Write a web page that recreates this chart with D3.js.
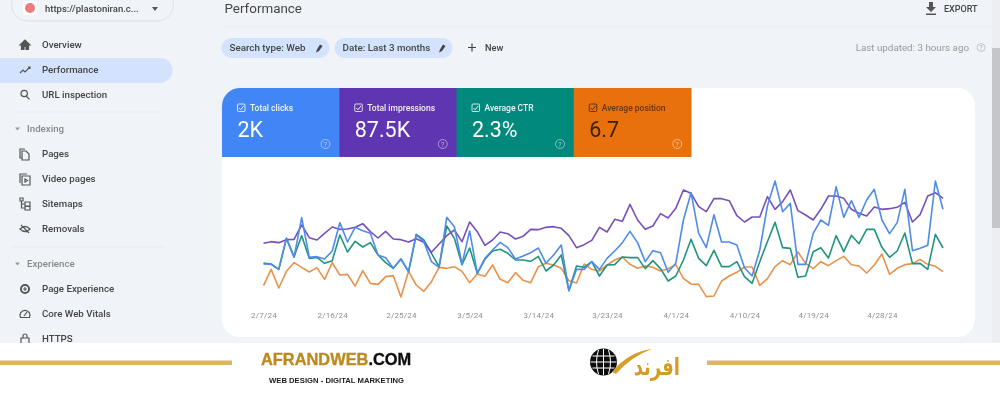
<!DOCTYPE html>
<html><head><meta charset="utf-8">
<script src="https://cdn.jsdelivr.net/npm/d3@7/dist/d3.min.js"></script>
<style>html,body{margin:0;padding:0;background:#fff;overflow:hidden}svg{display:block}text{font-family:Roboto,sans-serif}</style>
</head><body><svg id="c" width="1000" height="400"></svg>
<script>
const startDate = "2024-02-07";
const tickDates = ["2024-02-07","2024-02-16","2024-02-25","2024-03-05","2024-03-14","2024-03-23","2024-04-01","2024-04-10","2024-04-19","2024-04-28"];
const impressions = [260,265,262,271,272,315,277,270,290,309,302,303,308,319,295,276,296,273,271,264,274,263,233,258,283,300,265,324,295,254,270,294,289,273,281,302,301,308,310,305,283,247,256,269,308,294,332,326,377,330,302,312,349,336,365,420,410,370,355,394,394,388,343,324,339,339,400,362,385,420,358,345,330,362,402,402,395,362,350,342,369,362,364,368,383,324,346,402,412,395];
const clicks = [198,197,182,275,218,337,218,220,213,237,322,264,308,298,290,225,217,185,213,175,285,265,205,188,338,310,198,297,170,215,240,263,247,213,222,232,246,200,225,255,118,182,182,205,182,215,237,262,296,262,205,238,232,173,200,330,412,290,247,346,264,264,255,187,162,240,372,447,355,380,197,197,290,330,314,430,338,388,338,390,422,330,289,322,422,238,245,254,447,362];
const ctr = [201,198,182,275,220,283,215,218,200,208,285,234,266,249,262,225,202,185,213,175,287,270,230,190,312,275,196,246,170,212,237,242,230,210,210,206,221,177,195,225,118,192,188,205,162,195,196,219,217,217,184,208,184,147,162,210,272,215,193,239,190,190,205,160,140,205,265,323,247,245,158,162,235,247,216,283,235,284,259,302,302,248,218,237,291,199,200,182,287,246];
const position = [133,182,126,176,202,188,174,187,152,202,165,167,132,178,140,137,160,163,99,176,135,116,145,188,185,190,176,142,168,161,195,152,142,172,149,142,190,200,195,185,148,141,198,182,177,195,210,219,197,185,192,188,177,184,196,155,138,137,100,102,147,162,173,189,189,134,154,190,208,196,234,200,184,205,193,208,221,196,192,171,195,228,167,185,196,199,212,197,191,175];
const tabLabels = ["Total clicks","Total impressions","Average CTR","Average position"];
const tabValues = ["2K","87.5K","2.3%","6.7"];
const tabColors = ["#4285f4","#5e35b1","#00897b","#e8710a"];
const lineColors = {clicks:"#4f8be8",impressions:"#7650bb",ctr:"#22937f",position:"#e8924a"};

const svg = d3.select("#c");
const defs = svg.append("defs");
defs.append("filter").attr("id","soft").attr("filterUnits","userSpaceOnUse").attr("x",0).attr("y",0).attr("width",1000).attr("height",400).append("feGaussianBlur").attr("stdDeviation",0.4);
defs.append("clipPath").attr("id","card").append("rect").attr("x",222).attr("y",88).attr("width",753).attr("height",249).attr("rx",18);
const root = svg.append("g").attr("filter","url(#soft)");
const T = (x,y,s,size,fill,w,anchor)=>root.append("text").attr("x",x).attr("y",y).text(s).attr("font-size",size).attr("fill",fill).attr("font-weight",w||400).attr("text-anchor",anchor||"start");

// page
root.append("rect").attr("width",1000).attr("height",343).attr("fill","#f0f4f9");
root.append("rect").attr("x",992).attr("y",0).attr("width",8).attr("height",343).attr("fill","#eceef1");
root.append("rect").attr("x",992).attr("y",48).attr("width",8).attr("height",180).attr("fill","#c4c6c9");

// sidebar
root.append("rect").attr("x",11.5).attr("y",-12).attr("width",162).attr("height",33).attr("rx",16).attr("fill","none").attr("stroke","#dde1e6");
root.append("rect").attr("x",23).attr("y",1).attr("width",14).attr("height",14).attr("rx",2).attr("fill","#fff");
root.append("circle").attr("cx",30).attr("cy",8).attr("r",5).attr("fill","#ee7b7b");
T(45,12,"https://plastoniran.c...",9.5,"#444",500);
root.append("path").attr("d",d3.line()([[152,7],[158,7],[155,11]])+"Z").attr("fill","#555");
root.append("path").attr("d","M0 58H160a12.5 12.5 0 0 1 0 25H0Z").attr("fill","#d3e3fd");
const navItems = [["Overview",45,"home"],["Performance",70,"trend"],["URL inspection",95,"search"],["Pages",154,"doc"],["Video pages",179,"video"],["Sitemaps",204,"map"],["Removals",229,"eye"],["Page Experience",289,"plus"],["Core Web Vitals",314,"gauge"],["HTTPS",339,"lock"]];
navItems.forEach(([s,y,k])=>{
  T(42,y+2.8,s,9.7,"#444",500);
  const g = root.append("g").attr("transform",`translate(25,${y})`).attr("fill","none").attr("stroke","#555").attr("stroke-width",1.2);
  if(k==="home") g.append("path").attr("d","M-5 0L0-5L5 0H3.5V4.5H1V1.5H-1V4.5H-3.5V0Z").attr("fill","#555");
  if(k==="trend") g.append("path").attr("d","M-5 3L-2 0L0 2L5-3M3-3H5V-1");
  if(k==="search") g.append("path").attr("d","M-4-1.5a3.2 3.2 0 1 0 6.4 0a3.2 3.2 0 1 0-6.4 0M1.2 1L4.5 4.3");
  if(k==="doc") g.append("path").attr("d","M-3 4H-5V-5H0M-3-3H1L4 0V6H-3Z");
  if(k==="video") g.append("path").attr("d","M-5 4V-5H2M-3-3H5V6H-3Z M0 0L2.5 1.5L0 3Z");
  if(k==="map") g.append("path").attr("d","M-5-6H-2V-3H-5ZM-3.5-3V4H0M-3.5 0H0M0-2H5V2H0ZM0 2.5H5V6H0Z");
  if(k==="eye") g.append("path").attr("d","M-5 0Q0-5 5 0Q0 5-5 0ZM-4-4L4 4");
  if(k==="plus"){g.append("circle").attr("r",4).attr("fill","#fff").attr("stroke","#555").attr("stroke-width",2);g.append("path").attr("d","M-2 0H2M0-2V2").attr("stroke-width",1.2);}
  if(k==="gauge") g.append("path").attr("d","M-4.5 3.5a5 5 0 1 1 9 0ZM-1 2L2-2");
  if(k==="lock") g.append("path").attr("d","M-4-1H4V5H-4ZM-2-1V-3a2 2 0 0 1 4 0V-1");
});
[[12,112],[12,247]].forEach(([x,y])=>root.append("line").attr("x1",x).attr("x2",164).attr("y1",y).attr("y2",y).attr("stroke","#e8ebf0"));
[["Indexing",129],["Experience",264]].forEach(([s,y])=>{
  T(27,y+2.8,s,9.7,"#888",500);
  root.append("path").attr("d",`M15 ${y-1.5}H20L17.5 ${y+1.5}Z`).attr("fill","#999");
});

// header
T(224.5,12.5,"Performance",13.4,"#444",400);
root.append("path").attr("d","M929 2H933V7H936L931 12L926 7H929ZM926 13.5H936V15H926Z").attr("fill","#555");
T(944,11.5,"EXPORT",9,"#444",500);
root.append("line").attr("x1",222).attr("x2",992).attr("y1",27).attr("y2",27).attr("stroke","#e9edf2");
[[222,108,"Search type: Web"],[335,118,"Date: Last 3 months"]].forEach(([x,w,s])=>{
  root.append("rect").attr("x",x-0.5).attr("y",38).attr("width",w).attr("height",20).attr("rx",10).attr("fill","#d3e3fd");
  T(x+7.5,51,s,9.8,"#444",500);
  const px=x+w-14;
  root.append("path").attr("d",`M${px} 52.5L${px+1} 49.5L${px+4} 44.5L${px+6.5} 46L${px+3} 51Z`).attr("fill","#444");
});
root.append("path").attr("d","M468 47.5H476M472 43.5V51.5").attr("stroke","#444").attr("stroke-width",1.2);
T(485,51,"New",9.2,"#444",500);
T(969,51,"Last updated: 3 hours ago",9.8,"#999",400,"end");
root.append("circle").attr("cx",981).attr("cy",47.5).attr("r",4).attr("fill","none").attr("stroke","#bbb").attr("stroke-width",0.8);
root.append("text").attr("x",981).attr("y",50).attr("font-size",6.5).attr("fill","#aaa").attr("text-anchor","middle").text("?");

// card
root.append("rect").attr("x",222).attr("y",88).attr("width",753).attr("height",249).attr("rx",18).attr("fill","#fff");
const tabs = root.append("g").attr("clip-path","url(#card)");
const tabX = d3.scaleBand().domain(d3.range(tabLabels.length)).range([222,691]);
tabLabels.forEach((s,i)=>{
  const x=tabX(i), dark=i===3, ink=dark?"#3a2206":"#fff";
  tabs.append("rect").attr("x",x).attr("y",88).attr("width",tabX.bandwidth()+0.5).attr("height",69).attr("fill",tabColors[i]);
  tabs.append("rect").attr("x",x+15.5).attr("y",104).attr("width",7.5).attr("height",7.5).attr("rx",1).attr("fill","none").attr("stroke",ink).attr("stroke-width",0.8);
  tabs.append("path").attr("d",`M${x+17} 108L${x+18.7} 109.8L${x+21.8} 105.8`).attr("fill","none").attr("stroke",ink).attr("stroke-width",0.9);
  tabs.append("text").attr("x",x+28).attr("y",110.5).attr("font-size",8.5).attr("fill",ink).attr("font-weight",500).text(s).attr("opacity",dark?0.75:0.92);
  tabs.append("text").attr("x",x+15.5).attr("y",137).attr("font-size",21.5).attr("fill",ink).text(tabValues[i]);
  tabs.append("circle").attr("cx",x+103.5).attr("cy",144).attr("r",4.5).attr("fill","none").attr("stroke","#fff").attr("stroke-opacity",0.6).attr("stroke-width",0.8);
  tabs.append("text").attr("x",x+103.5).attr("y",147).attr("font-size",7).attr("fill","#fff").attr("fill-opacity",0.6).attr("text-anchor","middle").text("?");
});

// chart
const parse = d3.utcParse("%Y-%m-%d");
const dates = d3.range(clicks.length).map(i=>d3.utcDay.offset(parse(startDate),i));
const x = d3.scaleUtc().domain(d3.extent(dates)).range([263.5,943]);
const y = d3.scaleLinear().domain([0,480]).range([330,170]);
const line = d3.line().x((d,i)=>x(dates[i])).y(d=>y(d));
[["position",position],["ctr",ctr],["impressions",impressions],["clicks",clicks]].forEach(([k,v])=>{
  root.append("path").datum(v).attr("d",line).attr("fill","none").attr("stroke",lineColors[k]).attr("stroke-width",1.6).attr("stroke-linejoin","round");
});
const axis = root.append("g").attr("transform","translate(0,309.5)").call(d3.axisBottom(x).tickValues(tickDates.map(parse)).tickFormat(d3.utcFormat("%-m/%-d/%y")).tickSize(0));
axis.select(".domain").remove();
axis.selectAll("text").attr("font-size",8).attr("fill","#8f8f8f").attr("font-family","Roboto,sans-serif").attr("letter-spacing",0.2);

// footer
root.append("rect").attr("y",343).attr("width",1000).attr("height",57).attr("fill","#fff");
[[0,232],[707,1000]].forEach(([a,b])=>root.append("rect").attr("x",a).attr("y",360.5).attr("width",b-a).attr("height",4.5).attr("fill","#dcb662"));
const brand = root.append("text").attr("x",261).attr("y",364.5).attr("font-size",16.4).attr("font-weight",700).attr("stroke-width",0.35).style("font-family","'Liberation Sans',sans-serif");
brand.append("tspan").attr("fill","#bd8a1e").attr("stroke","#bd8a1e").text("AFRANDWEB");
brand.append("tspan").attr("fill","#111").attr("stroke","#111").text(".COM");
root.append("text").attr("x",269).attr("y",382.5).attr("font-size",7.7).attr("font-weight",700).attr("fill","#222").style("font-family","'Liberation Sans',sans-serif").text("WEB DESIGN - DIGITAL MARKETING");
const globe = root.append("g").attr("transform","translate(603.5,362)");
globe.append("circle").attr("r",13.5).attr("fill","#111");
globe.append("path").attr("d","M-13 0H13M0-13V13M-11-6H11M-11 6H11M-5-12Q-9 0-5 12M5-12Q9 0 5 12").attr("fill","none").attr("stroke","#fff").attr("stroke-width",1);
root.append("path").attr("d","M612 372Q628 352 652 349Q632 356 616 374Z").attr("fill","#d5a02c");
root.append("text").attr("transform","translate(680,375) scale(1,1.35)").attr("font-size",18).attr("font-weight",700).attr("fill","#d29c28").attr("direction","rtl").style("font-family","'DejaVu Sans',sans-serif").text("افرند");
</script></body></html>
